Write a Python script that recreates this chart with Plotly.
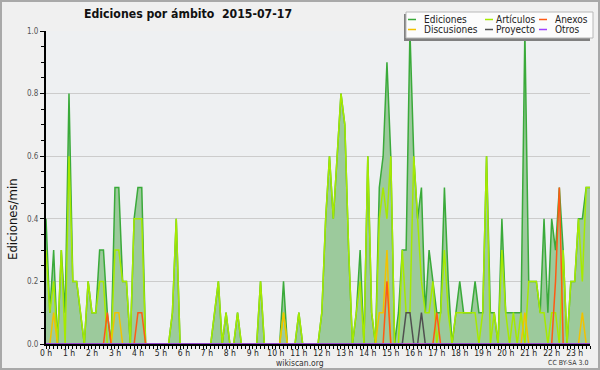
import plotly.graph_objects as go

# ---------------- data (edits/min, 10-minute slots, 2015-07-17) ----------------
slots = [i / 6 for i in range(144)]  # hour of day of each 10-minute slot

hour_ticks = list(range(24))
hour_labels = ["0 h", "1 h", "2 h", "3 h", "4 h", "5 h", "6 h", "7 h", "8 h", "9 h",
               "10 h", "11 h", "12 h", "13 h", "14 h", "15 h", "16 h", "17 h",
               "18 h", "19 h", "20 h", "21 h", "22 h", "23 h"]

ediciones = [
    0.4, 0.1, 0.3, 0, 0.3, 0.1,   0.8, 0.2, 0.2, 0.1, 0, 0.2,
    0.1, 0.1, 0.3, 0.3, 0.1, 0,   0.5, 0.5, 0.2, 0.2, 0, 0.4,
    0.5, 0.5, 0, 0, 0, 0,         0, 0, 0, 0.1, 0.4, 0,
    0, 0, 0, 0, 0, 0,             0, 0, 0.1, 0.2, 0, 0.1,
    0, 0, 0.1, 0, 0, 0,           0, 0, 0.2, 0, 0, 0,
    0, 0, 0.2, 0, 0, 0,           0.1, 0, 0, 0, 0, 0,
    0.1, 0.4, 0.6, 0.4, 0.6, 0.8, 0.7, 0.3, 0, 0.1, 0.3, 0,
    0.6, 0.1, 0, 0.5, 0.6, 0.9,   0.6, 0, 0.1, 0.3, 0.3, 1.0,
    0.6, 0.4, 0.5, 0.1, 0.3, 0.2, 0.1, 0.1, 0.5, 0.2, 0, 0.1,
    0.2, 0.1, 0.1, 0.1, 0.2, 0.1, 0.1, 0.6, 0.1, 0.1, 0, 0.4,
    0.1, 0.1, 0.1, 0.1, 0.1, 1.0, 0.2, 0.2, 0.2, 0.1, 0.4, 0.1,
    0.4, 0.3, 0.5, 0.3, 0, 0.2,   0.2, 0.4, 0.4, 0.5, 0.5, 0.5,
]

articulos = [
    0.3, 0.1, 0.2, 0, 0.3, 0,     0.6, 0.2, 0.2, 0.1, 0, 0.2,
    0.1, 0.1, 0.2, 0.2, 0, 0,     0.3, 0.3, 0.2, 0.2, 0, 0.4,
    0.4, 0.4, 0, 0, 0, 0,         0, 0, 0, 0.1, 0.4, 0,
    0, 0, 0, 0, 0, 0,             0, 0, 0.1, 0.2, 0, 0.1,
    0, 0, 0.1, 0, 0, 0,           0, 0, 0.2, 0, 0, 0,
    0, 0, 0.1, 0, 0, 0,           0.1, 0, 0, 0, 0, 0,
    0.1, 0.4, 0.6, 0.4, 0.6, 0.8, 0.7, 0.3, 0, 0.1, 0.2, 0,
    0.6, 0.1, 0, 0.4, 0.5, 0.4,   0.6, 0, 0, 0.3, 0.1, 0.1,
    0.6, 0.4, 0.2, 0.1, 0.1, 0.2, 0, 0.1, 0.3, 0.1, 0, 0.1,
    0.1, 0.1, 0.1, 0.1, 0.1, 0,   0.1, 0.6, 0, 0.1, 0, 0.3,
    0.1, 0, 0.1, 0, 0.1, 0,       0.2, 0.2, 0.2, 0.1, 0.1, 0,
    0.1, 0.1, 0, 0.3, 0, 0.2,     0.2, 0.4, 0.2, 0.5, 0.5, 0.5,
]

anexos = [
    0, 0, 0, 0, 0, 0,     0, 0, 0, 0, 0, 0,
    0, 0, 0, 0, 0.1, 0,   0, 0, 0, 0, 0, 0,
    0.1, 0.1, 0, 0, 0, 0, 0, 0, 0, 0, 0, 0,
    0, 0, 0, 0, 0, 0,     0, 0, 0, 0, 0, 0,
    0, 0, 0, 0, 0, 0,     0, 0, 0, 0, 0, 0,
    0, 0, 0, 0, 0, 0,     0, 0, 0, 0, 0, 0,
    0, 0, 0, 0, 0, 0,     0, 0, 0, 0, 0, 0,
    0, 0, 0, 0, 0, 0.2,   0, 0, 0, 0, 0, 0,
    0, 0, 0, 0, 0, 0,     0.1, 0, 0, 0, 0, 0,
    0, 0, 0, 0, 0, 0,     0, 0, 0, 0, 0, 0,
    0, 0, 0, 0, 0, 0,     0, 0, 0, 0, 0, 0,
    0, 0.2, 0.5, 0, 0, 0, 0, 0, 0, 0, 0, 0,
]

discusiones = [
    0, 0, 0.1, 0, 0, 0,   0, 0, 0, 0, 0, 0,
    0, 0, 0, 0, 0, 0,     0.1, 0.1, 0, 0, 0, 0,
    0, 0, 0, 0, 0, 0,     0, 0, 0, 0, 0, 0,
    0, 0, 0, 0, 0, 0,     0, 0, 0, 0, 0, 0,
    0, 0, 0, 0, 0, 0,     0, 0, 0, 0, 0, 0,
    0, 0, 0.1, 0, 0, 0,   0, 0, 0, 0, 0, 0,
    0, 0, 0, 0, 0, 0,     0, 0, 0, 0, 0, 0,
    0, 0, 0, 0.1, 0.1, 0.3, 0, 0, 0, 0, 0, 0,
    0, 0, 0, 0, 0, 0,     0, 0, 0, 0, 0, 0,
    0, 0, 0, 0, 0, 0,     0, 0, 0, 0, 0, 0,
    0, 0, 0, 0, 0, 0.1,   0, 0, 0, 0, 0, 0,
    0, 0, 0, 0, 0, 0,     0, 0, 0.1, 0, 0, 0,
]

proyecto = [
    0, 0, 0, 0, 0, 0,     0, 0, 0, 0, 0, 0,
    0, 0, 0, 0, 0, 0,     0, 0, 0, 0, 0, 0,
    0, 0, 0, 0, 0, 0,     0, 0, 0, 0, 0, 0,
    0, 0, 0, 0, 0, 0,     0, 0, 0, 0, 0, 0,
    0, 0, 0, 0, 0, 0,     0, 0, 0, 0, 0, 0,
    0, 0, 0, 0, 0, 0,     0, 0, 0, 0, 0, 0,
    0, 0, 0, 0, 0, 0,     0, 0, 0, 0, 0, 0,
    0, 0, 0, 0, 0, 0,     0, 0, 0, 0, 0.1, 0.1,
    0, 0, 0.1, 0, 0, 0,   0, 0, 0, 0, 0, 0,
    0, 0, 0, 0, 0, 0,     0, 0, 0, 0, 0, 0,
    0, 0, 0, 0, 0, 0,     0, 0, 0, 0, 0, 0,
    0, 0, 0, 0, 0, 0,     0, 0, 0, 0, 0, 0,
]

otros = [
    0, 0, 0, 0, 0, 0, 0, 0, 0, 0, 0, 0,
    0, 0, 0, 0, 0, 0, 0, 0, 0, 0, 0, 0,
    0, 0, 0, 0, 0, 0, 0, 0, 0, 0, 0, 0,
    0, 0, 0, 0, 0, 0, 0, 0, 0, 0, 0, 0,
    0, 0, 0, 0, 0, 0, 0, 0, 0, 0, 0, 0,
    0, 0, 0, 0, 0, 0, 0, 0, 0, 0, 0, 0,
    0, 0, 0, 0, 0, 0, 0, 0, 0, 0, 0, 0,
    0, 0, 0, 0, 0, 0, 0, 0, 0, 0, 0, 0,
    0, 0, 0, 0, 0, 0, 0, 0, 0, 0, 0, 0,
    0, 0, 0, 0, 0, 0, 0, 0, 0, 0, 0, 0,
    0, 0, 0, 0, 0, 0, 0, 0, 0, 0, 0, 0,
    0, 0, 0, 0, 0, 0, 0, 0, 0, 0, 0, 0,
]

series_names = ["Ediciones", "Artículos", "Anexos", "Discusiones", "Proyecto", "Otros"]
series_values = [ediciones, articulos, anexos, discusiones, proyecto, otros]
series_colors = ["#3aaa3a", "#a6ea00", "#ff5a14", "#f2c200", "#505050", "#a040ff"]
fill_color = "rgb(156,202,156)"
draw_order = ["Ediciones", "Artículos", "Discusiones", "Anexos", "Proyecto", "Otros"]

title_text = "Ediciones por ámbito  2015-07-17"
y_title = "Ediciones/min"
footer_site = "wikiscan.org"
footer_license = "CC BY-SA 3.0"

# ---------------- layout geometry (pixels) ----------------
L, R, T, B = 46, 590, 31, 344
W, H = R - L, B - T


def px(x):
    return (x - L) / W


def py(y):
    return (B - y) / H


FONT = "DejaVu Sans Condensed, DejaVu Sans, sans-serif"

fig = go.Figure()
for name in draw_order:
    k = series_names.index(name)
    kw = {}
    if name == "Ediciones":
        kw = dict(fill="tozeroy", fillcolor=fill_color)
    fig.add_trace(go.Scatter(
        x=slots, y=series_values[k], mode="lines", name=name,
        line=dict(color=series_colors[k], width=1.5), showlegend=False,
        hoverinfo="skip", **kw))

shapes = []
annotations = []

# outer frame
shapes.append(dict(type="rect", xref="paper", yref="paper",
                   x0=px(1), x1=px(599), y0=py(369), y1=py(1),
                   line=dict(color="#a9a9a9", width=2), fillcolor="rgba(0,0,0,0)"))

# legend box (shadow + box)
shapes.append(dict(type="rect", xref="paper", yref="paper",
                   x0=px(404), x1=px(590), y0=py(41), y1=py(14),
                   line=dict(width=0), fillcolor="#808080"))
shapes.append(dict(type="rect", xref="paper", yref="paper",
                   x0=px(406), x1=px(593), y0=py(38), y1=py(12),
                   line=dict(color="#b8b8b8", width=1), fillcolor="#fcfcfc"))

legend_rows = [19.5, 29.5]
legend_sample_x = [408, 485, 539]
legend_text_x = [422, 494, 553]
legend_layout = [["Ediciones", "Artículos", "Anexos"], ["Discusiones", "Proyecto", "Otros"]]
for r, row in enumerate(legend_layout):
    for c, name in enumerate(row):
        k = series_names.index(name)
        yy = legend_rows[r]
        shapes.append(dict(type="line", xref="paper", yref="paper",
                           x0=px(legend_sample_x[c]), x1=px(legend_sample_x[c] + 8),
                           y0=py(yy), y1=py(yy),
                           line=dict(color=series_colors[k], width=1.5)))
        annotations.append(dict(xref="paper", yref="paper", x=px(legend_text_x[c]), y=py(yy),
                                xanchor="left", yanchor="middle", showarrow=False,
                                text=name, font=dict(family=FONT, size=10, color="#222")))

# title
annotations.append(dict(xref="paper", yref="paper", x=px(188), y=py(13.5),
                        xanchor="center", yanchor="middle", showarrow=False,
                        text="<b>" + title_text + "</b>",
                        font=dict(family=FONT, size=12.2, color="#111")))
# y title
annotations.append(dict(xref="paper", yref="paper", x=px(12), y=py(219),
                        xanchor="center", yanchor="middle", showarrow=False, textangle=-90,
                        text=y_title, font=dict(family=FONT, size=13, color="#111")))
# footers
annotations.append(dict(xref="paper", yref="paper", x=px(300), y=py(362.5),
                        xanchor="center", yanchor="middle", showarrow=False,
                        text=footer_site, font=dict(family=FONT, size=8.5, color="#333")))
annotations.append(dict(xref="paper", yref="paper", x=px(590), y=py(363),
                        xanchor="right", yanchor="middle", showarrow=False,
                        text=footer_license, font=dict(family=FONT, size=7, color="#333")))

fig.update_layout(
    width=600, height=370, autosize=False,
    margin=dict(l=L, r=600 - R, t=T, b=370 - B, pad=0),
    paper_bgcolor="#f0f0f0", plot_bgcolor="#eef0f2",
    showlegend=False, shapes=shapes, annotations=annotations,
    font=dict(family=FONT, size=8, color="#222"),
)
fig.update_xaxes(
    range=[0, 142 / 6], tickmode="array", tickvals=hour_ticks, ticktext=hour_labels,
    ticks="outside", ticklen=3, tickwidth=1, tickcolor="black", automargin=False,
    ticklabelstandoff=-3,
    showline=True, linecolor="black", linewidth=2, showgrid=False, zeroline=False,
    tickfont=dict(family=FONT, size=8.5, color="#222"),
    minor=dict(tickmode="array", tickvals=slots, ticks="outside", ticklen=3,
               tickcolor="black", showgrid=False),
)
fig.update_yaxes(
    range=[0, 1.0], tick0=0, dtick=0.2, tickformat=".1f", automargin=False,
    ticks="outside", ticklen=4, tickwidth=1, tickcolor="black",
    showline=True, linecolor="black", linewidth=2,
    showgrid=True, gridcolor="#cccccc", gridwidth=1, zeroline=False,
    tickfont=dict(family=FONT, size=8, color="#555"),
    minor=dict(dtick=0.05, tick0=0, ticks="outside", ticklen=3, tickcolor="black", showgrid=False),
)

fig.write_html("out.html", config={"displayModeBar": False},
               post_script="document.body.style.margin='0px';")
